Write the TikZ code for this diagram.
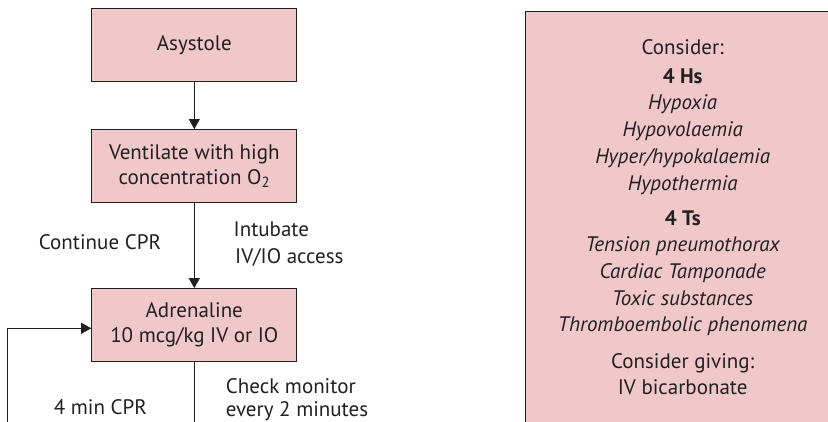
\documentclass[tikz,border=0pt]{standalone}
\usepackage{fontspec}
\setmainfont{PT Sans}
\usetikzlibrary{arrows.meta}
\definecolor{boxfill}{HTML}{F0C8C9}
\definecolor{ink}{HTML}{231F20}
\newcommand{\fsz}{\fontsize{21}{25}\selectfont}
\begin{document}
\begin{tikzpicture}[x=1pt,y=-1pt,
  box/.style={draw=ink, line width=1.2pt, fill=boxfill, minimum width=205pt, minimum height=73pt, inner sep=0pt, align=center, font=\fsz, text=ink},
  conn/.style={draw=ink, line width=0.9pt},
  arr/.style={conn, -{Triangle[width=11pt,length=10pt]}},
  lbl/.style={font=\fsz, text=ink, inner sep=0pt},
  rl/.style={lbl, anchor=base},
  rli/.style={rl, font=\fsz\itshape},
  rlb/.style={rl, font=\fsz\bfseries},
]
\useasboundingbox (0,0) rectangle (828,421);
\clip (0,0) rectangle (828,421);
% flowchart boxes
\node[box] (asys) at (194.3,45.2) {Asystole};
\node[box] (vent) at (194.3,166.2) {Ventilate with high\\concentration O\textsubscript{2}};
\node[box] (adr) at (194.3,325.2) {Adrenaline\\10 mcg/kg IV or IO};
% off-page ends
\coordinate (down) at (194.3,430);
\coordinate (loopB) at (7.3,430);
\coordinate (loopT) at (7.3,328.3);
\coordinate (adrIn) at (adr.west |- loopT);
% connectors
\draw[arr] (asys) -- (vent);
\draw[arr] (vent) -- (adr);
\draw[conn] (adr) -- (down);
\draw[arr] (loopB) -- (loopT) -- (adrIn);
% labels
\node[lbl, anchor=base] (ccpr) at (100,249.3) {Continue CPR};
\node[lbl, anchor=base west] (intub) at (233.5,236) {Intubate};
\node[lbl, anchor=base west] (ivio) at (235,263.3) {IV/IO access};
\node[lbl, anchor=base west] (chk) at (225.7,393.3) {Check monitor};
\node[lbl, anchor=base west] (ev2) at (225.7,416.7) {every 2 minutes};
\node[lbl, anchor=base] (fcpr) at (100.3,414.3) {4 min CPR};
% right box
\node[draw=ink, line width=1.2pt, fill=boxfill, minimum width=340pt, minimum height=440pt, anchor=north west, inner sep=0pt] (causes) at (525,10.7) {};
\node[rl] (c1) at (682.7,54) {Consider:};
\node[rlb] (c2) at (682.7,83.3) {4 Hs};
\node[rli] (c3) at (682.7,109.3) {Hypoxia};
\node[rli] (c4) at (682.7,136) {Hypovolaemia};
\node[rli] (c5) at (682.7,163.3) {Hyper/hypokalaemia};
\node[rli] (c6) at (682.7,190) {Hypothermia};
\node[rlb] (c7) at (682.7,225.3) {4 Ts};
\node[rli] (c8) at (682.7,251.7) {Tension pneumothorax};
\node[rli] (c9) at (682.7,278.7) {Cardiac Tamponade};
\node[rli] (c10) at (682.7,305) {Toxic substances};
\node[rli] (c11) at (682.7,331.7) {Thromboembolic phenomena};
\node[rl] (c12) at (682.7,368.3) {Consider giving:};
\node[rl] (c13) at (682.7,394) {IV bicarbonate};
\end{tikzpicture}
\end{document}
